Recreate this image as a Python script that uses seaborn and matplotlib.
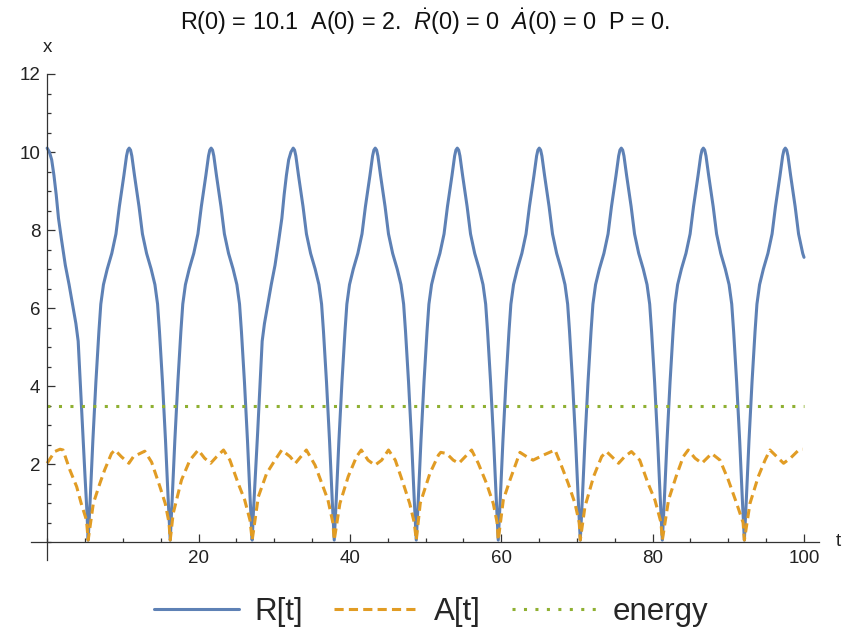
import matplotlib
matplotlib.use("Agg")
import matplotlib.pyplot as plt
import seaborn as sns
import pandas as pd
from matplotlib.ticker import MultipleLocator

# ---------------- data ----------------
t_R = [
    0, 0.3, 0.6, 0.9, 1.2, 1.5, 1.9, 2.4, 2.9, 3.4, 3.8, 4.1, 4.4, 4.7, 5.0, 5.25, 5.42,
    5.69, 6.04, 6.44, 6.84, 7.09, 7.44, 7.94, 8.54, 9.09, 9.54, 10.14, 10.49, 10.66, 10.84,
    11.02, 11.19, 11.54, 12.14, 12.59, 13.14, 13.74, 14.24, 14.59, 14.84, 15.24, 15.64, 15.99, 16.26,
    16.52, 16.87, 17.27, 17.67, 17.92, 18.27, 18.77, 19.37, 19.92, 20.37, 20.97, 21.32, 21.49, 21.67,
    21.85, 22.02, 22.37, 22.97, 23.42, 23.97, 24.57, 25.07, 25.42, 25.67, 26.07, 26.47, 26.82, 27.09,
    27.26, 27.51, 27.81, 28.11, 28.41, 28.71, 29.11, 29.61, 30.11, 30.61, 31.01, 31.31, 31.61, 31.91, 32.21, 32.51,
    32.69, 32.86, 33.21, 33.81, 34.26, 34.81, 35.41, 35.91, 36.26, 36.51, 36.91, 37.31, 37.66, 37.93,
    38.20, 38.55, 38.95, 39.35, 39.60, 39.95, 40.45, 41.05, 41.60, 42.05, 42.65, 43.00, 43.17, 43.35,
    43.53, 43.70, 44.05, 44.65, 45.10, 45.65, 46.25, 46.75, 47.10, 47.35, 47.75, 48.15, 48.50, 48.77,
    49.04, 49.39, 49.79, 50.19, 50.44, 50.79, 51.29, 51.89, 52.44, 52.89, 53.49, 53.84, 54.01, 54.19,
    54.37, 54.54, 54.89, 55.49, 55.94, 56.49, 57.09, 57.59, 57.94, 58.19, 58.59, 58.99, 59.34, 59.60,
    59.87, 60.22, 60.62, 61.02, 61.27, 61.62, 62.12, 62.72, 63.27, 63.72, 64.32, 64.67, 64.84, 65.02,
    65.20, 65.37, 65.72, 66.32, 66.77, 67.32, 67.92, 68.42, 68.77, 69.02, 69.42, 69.82, 70.17, 70.44,
    70.71, 71.06, 71.46, 71.86, 72.11, 72.46, 72.96, 73.56, 74.11, 74.56, 75.16, 75.51, 75.68, 75.86,
    76.04, 76.21, 76.56, 77.16, 77.61, 78.16, 78.76, 79.26, 79.61, 79.86, 80.26, 80.66, 81.01, 81.28,
    81.55, 81.90, 82.30, 82.70, 82.95, 83.30, 83.80, 84.40, 84.95, 85.40, 86.00, 86.35, 86.52, 86.70,
    86.88, 87.05, 87.40, 88.00, 88.45, 89.00, 89.60, 90.10, 90.45, 90.70, 91.10, 91.50, 91.85, 92.12,
    92.38, 92.73, 93.13, 93.53, 93.78, 94.13, 94.63, 95.23, 95.78, 96.23, 96.83, 97.18, 97.35, 97.53,
    97.71, 97.88, 98.23, 98.83, 99.28, 99.83, 100.0,
]
R_vals = [
    10.1, 10.0, 9.8, 9.4, 8.9, 8.3, 7.75, 7.1, 6.6, 6.05, 5.6, 5.15, 4.0, 2.8, 1.7, 0.8, 0.05,
    1.1, 2.6, 4.1, 5.4, 6.1, 6.6, 7.0, 7.4, 7.9, 8.6, 9.4, 9.9, 10.05, 10.1,
    10.05, 9.9, 9.4, 8.6, 7.9, 7.4, 7.0, 6.6, 6.1, 5.4, 4.1, 2.6, 1.1, 0.05,
    1.1, 2.6, 4.1, 5.4, 6.1, 6.6, 7.0, 7.4, 7.9, 8.6, 9.4, 9.9, 10.05, 10.1,
    10.05, 9.9, 9.4, 8.6, 7.9, 7.4, 7.0, 6.6, 6.1, 5.4, 4.1, 2.6, 1.1, 0.05,
    0.8, 1.7, 2.8, 4.0, 5.15, 5.6, 6.05, 6.6, 7.1, 7.75, 8.3, 8.9, 9.4, 9.8, 10.0, 10.1,
    10.05, 9.9, 9.4, 8.6, 7.9, 7.4, 7.0, 6.6, 6.1, 5.4, 4.1, 2.6, 1.1, 0.05,
    1.1, 2.6, 4.1, 5.4, 6.1, 6.6, 7.0, 7.4, 7.9, 8.6, 9.4, 9.9, 10.05, 10.1,
    10.05, 9.9, 9.4, 8.6, 7.9, 7.4, 7.0, 6.6, 6.1, 5.4, 4.1, 2.6, 1.1, 0.05,
    1.1, 2.6, 4.1, 5.4, 6.1, 6.6, 7.0, 7.4, 7.9, 8.6, 9.4, 9.9, 10.05, 10.1,
    10.05, 9.9, 9.4, 8.6, 7.9, 7.4, 7.0, 6.6, 6.1, 5.4, 4.1, 2.6, 1.1, 0.05,
    1.1, 2.6, 4.1, 5.4, 6.1, 6.6, 7.0, 7.4, 7.9, 8.6, 9.4, 9.9, 10.05, 10.1,
    10.05, 9.9, 9.4, 8.6, 7.9, 7.4, 7.0, 6.6, 6.1, 5.4, 4.1, 2.6, 1.1, 0.05,
    1.1, 2.6, 4.1, 5.4, 6.1, 6.6, 7.0, 7.4, 7.9, 8.6, 9.4, 9.9, 10.05, 10.1,
    10.05, 9.9, 9.4, 8.6, 7.9, 7.4, 7.0, 6.6, 6.1, 5.4, 4.1, 2.6, 1.1, 0.05,
    1.1, 2.6, 4.1, 5.4, 6.1, 6.6, 7.0, 7.4, 7.9, 8.6, 9.4, 9.9, 10.05, 10.1,
    10.05, 9.9, 9.4, 8.6, 7.9, 7.4, 7.0, 6.6, 6.1, 5.4, 4.1, 2.6, 1.1, 0.05,
    1.1, 2.6, 4.1, 5.4, 6.1, 6.6, 7.0, 7.4, 7.9, 8.6, 9.4, 9.9, 10.05, 10.1,
    10.05, 9.9, 9.4, 8.6, 7.9, 7.4, 7.3,
]

t_A = [
    0, 1.0, 1.7, 2.1, 3.0, 3.9, 4.5, 5.2, 5.42, 6.1, 6.96, 7.6, 8.5, 8.95, 9.8, 10.8,
    11.4, 12.9, 13.8, 14.9, 15.6, 16.1, 16.26, 16.65, 17.75, 18.86, 19.96, 20.8, 21.6,
    22.4, 23.3, 24.15, 25.25, 26.1, 26.8, 27.09, 27.9, 29.0, 30.1, 31.0, 32.1, 32.8,
    34.25, 35.4, 36.3, 37.1, 37.75, 37.93, 38.68, 39.78, 40.88, 41.5, 42.4, 43.3,
    44.2, 45.1, 46.0, 47.05, 47.9, 48.5, 48.77, 49.3, 50.57, 51.7, 52.0, 52.77, 53.66, 54.4,
    56.08, 56.96, 58.06, 58.94, 59.45, 59.6, 60.27, 61.15, 62.47, 63.35, 64.2,
    65.8, 67.1, 68.0, 68.85, 69.74, 70.3, 70.44, 71.05, 72.2, 73.26, 73.9, 74.6, 75.5,
    76.3, 77.2, 78.3, 79.4, 80.3, 81.1, 81.28, 82.1, 83.1, 84.05, 84.7, 85.6, 86.5,
    87.8, 88.9, 90.0, 91.1, 91.95, 92.12, 92.86, 93.96, 94.85, 95.5, 96.4, 97.3,
    98.2, 99.3, 99.8,
]
A_vals = [
    2.02, 2.32, 2.38, 2.36, 1.85, 1.42, 0.99, 0.56, 0.05, 0.99, 1.5, 1.85, 2.27, 2.36, 2.19, 2.02,
    2.19, 2.33, 2.05, 1.42, 0.99, 0.5, 0.05, 0.73, 1.59, 2.1, 2.36, 2.15, 2.02,
    2.19, 2.36, 2.1, 1.5, 1.08, 0.56, 0.05, 1.16, 1.76, 2.1, 2.36, 2.19, 2.02,
    2.36, 1.97, 1.5, 1.08, 0.5, 0.05, 0.99, 1.68, 2.19, 2.36, 2.1, 1.97,
    2.1, 2.36, 2.1, 1.5, 0.99, 0.5, 0.05, 1.0, 1.76, 2.23, 2.3, 2.27, 2.1, 2.02,
    2.36, 2.02, 1.5, 0.99, 0.5, 0.05, 1.08, 1.59, 2.3, 2.19, 2.1,
    2.25, 2.36, 1.93, 1.5, 0.99, 0.5, 0.05, 0.9, 1.68, 2.19, 2.32, 2.19, 2.02,
    2.19, 2.32, 2.1, 1.5, 1.08, 0.5, 0.05, 1.08, 1.68, 2.19, 2.36, 2.15, 2.02,
    2.27, 2.1, 1.59, 0.99, 0.5, 0.05, 0.99, 1.68, 2.1, 2.36, 2.19, 2.02,
    2.15, 2.36, 2.38,
]

t_E = [0, 100]
E_vals = [3.5, 3.5]

series_names = ["R[t]", "A[t]", "energy"]
series_colors = ["#5E81B5", "#E19C24", "#8FB032"]
x_ticks = [20, 40, 60, 80, 100]
y_ticks = [2, 4, 6, 8, 10, 12]
title_text = r"R(0) = 10.1  A(0) = 2.  $\dot{R}$(0) = 0  $\dot{A}$(0) = 0  P = 0."

# ---------------- style ----------------
sns.set_theme(style="white")
plt.rcParams["font.family"] = ["Liberation Sans", "DejaVu Sans"]
plt.rcParams["mathtext.fontset"] = "custom"
plt.rcParams["mathtext.rm"] = "Liberation Sans"
plt.rcParams["mathtext.it"] = "Liberation Sans:italic"

W, H = 845, 634
fig = plt.figure(figsize=(W / 100, H / 100), dpi=100)
ax_l, ax_r, ax_t, ax_b = 31.4, 819.0, 74.0, 560.0
ax = fig.add_axes([ax_l / W, (H - ax_b) / H, (ax_r - ax_l) / W, (ax_b - ax_t) / H])

lw = 2.2
sns.lineplot(x=t_R, y=R_vals, ax=ax, color=series_colors[0], lw=lw,
             label=series_names[0], sort=False, estimator=None)
sns.lineplot(x=t_A, y=A_vals, ax=ax, color=series_colors[1], lw=lw,
             label=series_names[1], sort=False, estimator=None,
             linestyle=(0, (3.0, 1.7)))
sns.lineplot(x=t_E, y=E_vals, ax=ax, color=series_colors[2], lw=lw,
             label=series_names[2], sort=False, estimator=None,
             linestyle=(0, (1.0, 2.75)))

ax.set_xlim(-2.08, 101.98)
ax.set_ylim(-0.46, 12.0)

for s in ["top", "right"]:
    ax.spines[s].set_visible(False)
ax.spines["left"].set_position(("data", 0))
ax.spines["bottom"].set_position(("data", 0))
for s in ["left", "bottom"]:
    ax.spines[s].set_color("#333333")
    ax.spines[s].set_linewidth(0.9)

ax.set_xticks(x_ticks)
ax.set_yticks(y_ticks)
ax.xaxis.set_minor_locator(MultipleLocator(5))
ax.yaxis.set_minor_locator(MultipleLocator(0.5))
ax.tick_params(which="both", direction="in", color="#333333", width=0.9,
               bottom=True, left=True, top=False, right=False)
ax.tick_params(which="major", length=5.5, labelsize=13.5, labelcolor="#222222")
ax.tick_params(which="minor", length=3.2)
ax.tick_params(axis="x", which="major", pad=6)
ax.tick_params(axis="y", which="major", pad=5)
ax.set_xlabel("")
ax.set_ylabel("")
ax.grid(False)

fig.text(838 / W, 1 - 542 / H, "t", ha="center", va="center", fontsize=13.5, color="#222222")
fig.text(47 / W, 1 - 48 / H, "x", ha="center", va="center", fontsize=13.5, color="#222222")
fig.text(425 / W, 1 - 22 / H, title_text, ha="center", va="center", fontsize=16.8, color="#111111")

handles, labels = ax.get_legend_handles_labels()
ax.get_legend().remove()
fig.legend(handles, labels, loc="center", bbox_to_anchor=(431 / W, 1 - 612 / H),
           ncol=3, frameon=False, fontsize=22.5, handlelength=2.7,
           handletextpad=0.5, columnspacing=1.0)

fig.savefig("out.png", dpi=100)
